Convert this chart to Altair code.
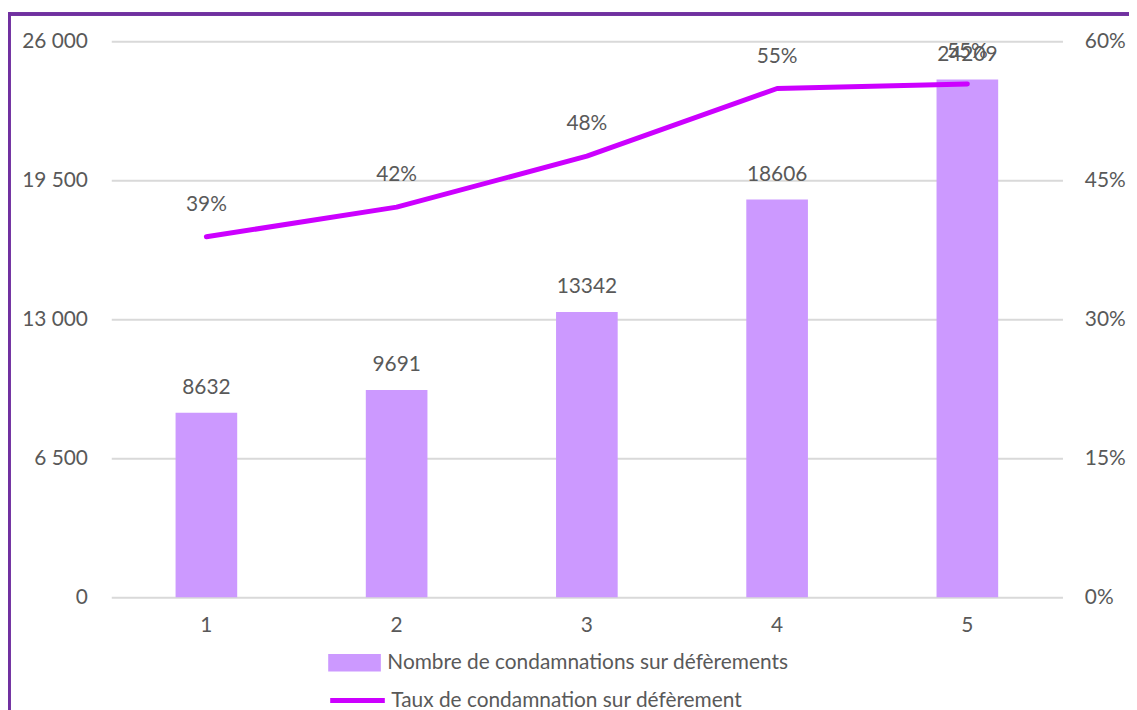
import altair as alt
import pandas as pd

categories = ["1", "2", "3", "4", "5"]
counts = [8632, 9691, 13342, 18606, 24209]
rates = [0.389, 0.421, 0.476, 0.549, 0.554]
bar_name = "Nombre de condamnations sur défèrements"
line_name = "Taux de condamnation sur défèrement"

df = pd.DataFrame({
    "cat": categories,
    "count": counts,
    "rate": rates,
    "bar_series": [bar_name] * 5,
    "line_series": [line_name] * 5,
})

FONT = "Lato"
TXT = "#595959"
FS = 21

x = alt.X("cat:N", sort=categories,
          scale=alt.Scale(paddingInner=0, paddingOuter=0),
          axis=alt.Axis(title=None, labelAngle=0, domain=False, ticks=False,
                        labelPadding=17, labelFontSize=FS, labelColor=TXT, labelFont=FONT))

y_left = alt.Y("count:Q", scale=alt.Scale(domain=[0, 26000], nice=False),
               axis=alt.Axis(title=None, values=[0, 6500, 13000, 19500, 26000],
                             labelExpr="datum.value >= 1000 ? floor(datum.value/1000) + ' ' + format(datum.value % 1000, '03d') : format(datum.value, 'd')",
                             domain=False, ticks=False, grid=True, gridColor="#D9D9D9", gridWidth=2,
                             labelPadding=24, labelFontSize=FS, labelColor=TXT, labelFont=FONT))

bars = alt.Chart(df).mark_bar(width={"band": 0.324}).encode(
    x=x,
    y=y_left,
    fill=alt.Fill("bar_series:N",
                  scale=alt.Scale(domain=[bar_name], range=["#CC99FF"]),
                  legend=alt.Legend(title=None, orient="none", legendX=227, legendY=608,
                                    symbolType="M-1.5,-0.5H1.5V0.5H-1.5Z", symbolSize=1250,
                                    symbolStrokeWidth=0, labelFontSize=FS, labelColor=TXT,
                                    labelFont=FONT, labelOffset=15, labelLimit=800)),
)
bar_text = alt.Chart(df).mark_text(dy=-25, fontSize=FS, color=TXT, font=FONT).encode(
    x=x, y=y_left, text=alt.Text("count:Q", format="d"))

y_right = alt.Y("rate:Q", scale=alt.Scale(domain=[0, 0.6], nice=False),
                axis=alt.Axis(title=None, orient="right", values=[0, 0.15, 0.3, 0.45, 0.6],
                              format=".0%", domain=False, ticks=False, grid=False,
                              labelPadding=22, labelFontSize=FS, labelColor=TXT, labelFont=FONT))

line = alt.Chart(df).mark_line(strokeWidth=5, strokeCap="round", strokeJoin="round").encode(
    x=x,
    y=y_right,
    stroke=alt.Stroke("line_series:N",
                      scale=alt.Scale(domain=[line_name], range=["#CC00FF"]),
                      legend=alt.Legend(title=None, orient="none", legendX=218, legendY=634,
                                        symbolType="stroke", symbolSize=3025, symbolStrokeWidth=5,
                                        labelFontSize=FS, labelColor=TXT, labelFont=FONT,
                                        labelOffset=4, labelLimit=800)),
)
line_text = alt.Chart(df).mark_text(dy=-32, fontSize=FS, color=TXT, font=FONT).encode(
    x=x, y=y_right, text=alt.Text("rate:Q", format=".0%"))

border = alt.Chart(df).mark_rule(color="#7030A0", strokeWidth=3).encode(
    x=alt.value(-103), x2=alt.value(1100), y=alt.value(-27.5), y2=alt.value(-27.5))
border_left = alt.Chart(df).mark_rule(color="#7030A0", strokeWidth=3).encode(
    x=alt.value(-103), x2=alt.value(-103), y=alt.value(-29), y2=alt.value(720))

chart = alt.layer(
    alt.layer(bars, bar_text),
    alt.layer(line, line_text),
    border, border_left,
).resolve_scale(y="independent", fill="independent", stroke="independent").properties(
    width=958, height=560,
    autosize=alt.AutoSizeParams(type="none"),
    padding={"left": 104, "top": 31, "right": 67, "bottom": 111},
).configure_view(stroke=None)

chart.save("out.html", embed_options={"renderer": "svg", "actions": False})
